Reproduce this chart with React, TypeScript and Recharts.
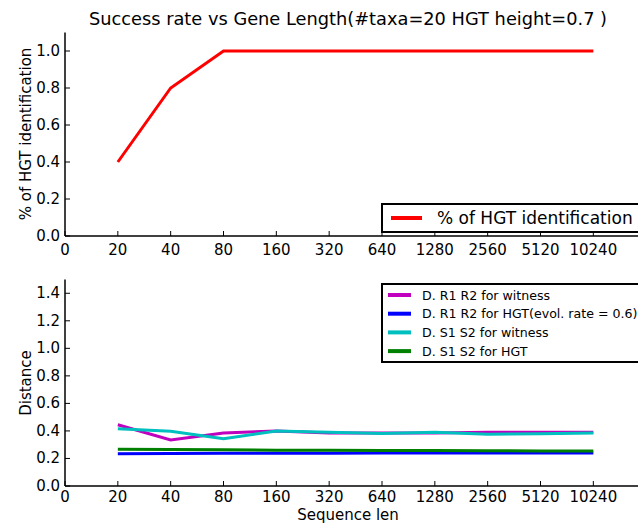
import React from 'react';
import { LineChart, Line, XAxis, YAxis } from 'recharts';

const seqLens = ['20', '40', '80', '160', '320', '640', '1280', '2560', '5120', '10240'];
const xTickLabels = ['0', ...seqLens];
const xTicks = [0, 1, 2, 3, 4, 5, 6, 7, 8, 9, 10];

const hgtIdent = [0.4, 0.8, 1.0, 1.0, 1.0, 1.0, 1.0, 1.0, 1.0, 1.0];
const r1r2Witness = [0.445, 0.335, 0.385, 0.4, 0.385, 0.385, 0.385, 0.39, 0.39, 0.39];
const r1r2Hgt = [0.234, 0.236, 0.237, 0.238, 0.238, 0.239, 0.239, 0.24, 0.24, 0.24];
const s1s2Witness = [0.415, 0.397, 0.344, 0.4, 0.39, 0.382, 0.39, 0.376, 0.38, 0.385];
const s1s2Hgt = [0.267, 0.266, 0.263, 0.26, 0.259, 0.258, 0.257, 0.256, 0.255, 0.255];

const topYTicks = [0, 0.2, 0.4, 0.6, 0.8, 1.0];
const botYTicks = [0, 0.2, 0.4, 0.6, 0.8, 1.0, 1.2, 1.4];

const topData = seqLens.map((s, k) => ({ i: k + 1, len: s, hgt: hgtIdent[k] }));
const botData = seqLens.map((s, k) => ({
  i: k + 1,
  len: s,
  r1r2w: r1r2Witness[k],
  r1r2h: r1r2Hgt[k],
  s1s2w: s1s2Witness[k],
  s1s2h: s1s2Hgt[k],
}));

const bottomSeries = [
  { key: 'r1r2w', name: 'D. R1 R2 for witness', color: '#bf00bf' },
  { key: 'r1r2h', name: 'D. R1 R2 for HGT(evol. rate = 0.6)', color: '#0000ff' },
  { key: 's1s2w', name: 'D. S1 S2 for witness', color: '#00bfbf' },
  { key: 's1s2h', name: 'D. S1 S2 for HGT', color: '#008000' },
];

const FONT = '"DejaVu Sans", sans-serif';
const TICK_FS = 15;

const XTickBottom = (props: any) => {
  const { x, y, payload, offset } = props;
  return (
    <g>
      <line x1={x} y1={y} x2={x} y2={y - 5} stroke="#000" strokeWidth={1} />
      <text x={x} y={y + offset} textAnchor="middle" dominantBaseline="central" fontSize={TICK_FS} fontFamily={FONT} fill="#000">
        {xTickLabels[payload.value]}
      </text>
    </g>
  );
};

const XTickTop = (props: any) => {
  const { x, y } = props;
  return <line x1={x} y1={y} x2={x} y2={y + 5} stroke="#000" strokeWidth={1} />;
};

const YTick = (props: any) => {
  const { x, y, payload } = props;
  return (
    <g>
      <line x1={x} y1={y} x2={x + 5} y2={y} stroke="#000" strokeWidth={1} />
      <text x={x - 5} y={y} textAnchor="end" dominantBaseline="central" fontSize={TICK_FS} fontFamily={FONT} fill="#000">
        {Number(payload.value).toFixed(1)}
      </text>
    </g>
  );
};

const CHART_W = 720;

export default function App() {
  return (
    <div style={{ position: 'absolute', left: 0, top: 0, width: 638, height: 524, overflow: 'hidden', background: '#fff', fontFamily: FONT }}>
      <div style={{ position: 'absolute', left: 0, top: 0 }}>
        <LineChart width={CHART_W} height={270} data={topData} margin={{ top: 32.5, right: 21, bottom: 0, left: 0 }}>
          <XAxis dataKey="i" type="number" domain={[0, 12]} ticks={xTicks} interval={0} tickSize={0} tickMargin={0}
            height={34} tick={<XTickBottom offset={13.5} />} axisLine={{ stroke: '#000', strokeWidth: 1.5 }} tickLine={false} />
          <XAxis xAxisId="top" orientation="top" dataKey="i" type="number" domain={[0, 12]} ticks={xTicks} interval={0}
            tickSize={0} tickMargin={0} height={0} tick={<XTickTop />} axisLine={{ stroke: '#000', strokeWidth: 1.5 }} tickLine={false} />
          <YAxis type="number" domain={[0, 1.1]} ticks={topYTicks} interval={0} width={65} tickSize={0} tickMargin={0}
            tick={<YTick />} axisLine={{ stroke: '#000', strokeWidth: 1.5 }} tickLine={false} />
          <Line dataKey="hgt" stroke="#ff0000" strokeWidth={3} dot={false} isAnimationActive={false} />
        </LineChart>
      </div>
      <div style={{ position: 'absolute', left: 0, top: 270 }}>
        <LineChart width={CHART_W} height={254} data={botData} margin={{ top: 9.5, right: 21, bottom: 0, left: 0 }}>
          <XAxis dataKey="i" type="number" domain={[0, 12]} ticks={xTicks} interval={0} tickSize={0} tickMargin={0}
            height={38} tick={<XTickBottom offset={10.5} />} axisLine={{ stroke: '#000', strokeWidth: 1.5 }} tickLine={false} />
          <XAxis xAxisId="top" orientation="top" dataKey="i" type="number" domain={[0, 12]} ticks={xTicks} interval={0}
            tickSize={0} tickMargin={0} height={0} tick={<XTickTop />} axisLine={{ stroke: '#000', strokeWidth: 1.5 }} tickLine={false} />
          <YAxis type="number" domain={[0, 1.5]} ticks={botYTicks} interval={0} width={65} tickSize={0} tickMargin={0}
            tick={<YTick />} axisLine={{ stroke: '#000', strokeWidth: 1.5 }} tickLine={false} />
          {bottomSeries.map((s) => (
            <Line key={s.key} dataKey={s.key} name={s.name} stroke={s.color} strokeWidth={3} dot={false} isAnimationActive={false} />
          ))}
        </LineChart>
      </div>
      <svg width={638} height={524} style={{ position: 'absolute', left: 0, top: 0, pointerEvents: 'none' }}>
        <text x={348} y={18} textAnchor="middle" dominantBaseline="central" fontSize={17.8} fontFamily={FONT} fill="#000">
          Success rate vs Gene Length(#taxa=20 HGT height=0.7 )
        </text>
        <text transform="translate(26,134) rotate(-90)" textAnchor="middle" dominantBaseline="central" fontSize={TICK_FS} fontFamily={FONT} fill="#000">
          % of HGT identification
        </text>
        <text transform="translate(26,383) rotate(-90)" textAnchor="middle" dominantBaseline="central" fontSize={TICK_FS} fontFamily={FONT} fill="#000">
          Distance
        </text>
        <text x={348} y={514.5} textAnchor="middle" dominantBaseline="central" fontSize={TICK_FS} fontFamily={FONT} fill="#000">
          Sequence len
        </text>
        {/* top legend */}
        <rect x={382} y={204} width={300} height={28} fill="#fff" stroke="#000" strokeWidth={2} />
        <line x1={391} y1={218} x2={422} y2={218} stroke="#ff0000" strokeWidth={4} />
        <text x={437} y={218} dominantBaseline="central" fontSize={17} fontFamily={FONT} fill="#000">% of HGT identification</text>
        {/* bottom legend */}
        <rect x={382} y={284} width={300} height={78} fill="#fff" stroke="#000" strokeWidth={2} />
        {bottomSeries.map((s, k) => (
          <g key={s.key}>
            <line x1={388} y1={295 + k * 18.7} x2={411} y2={295 + k * 18.7} stroke={s.color} strokeWidth={4} />
            <text x={422} y={295 + k * 18.7} dominantBaseline="central" fontSize={12.6} fontFamily={FONT} fill="#000">{s.name}</text>
          </g>
        ))}
      </svg>
    </div>
  );
}
